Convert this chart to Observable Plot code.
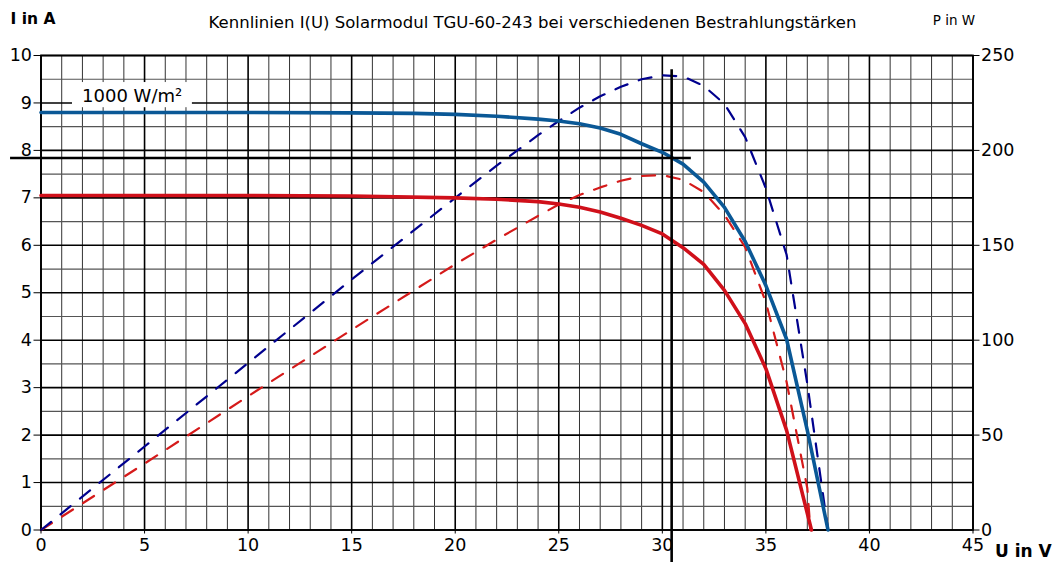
<!DOCTYPE html>
<html>
<head>
<meta charset="utf-8">
<script src="https://cdn.jsdelivr.net/npm/d3@7"></script>
<script src="https://cdn.jsdelivr.net/npm/@observablehq/plot@0.6"></script>
<style>
  html, body { margin: 0; padding: 0; background: #fff; }
  #chart svg { display: block; }
</style>
</head>
<body>
<div id="chart"></div>
<script>
// ---- Texts ----
const title = "Kennlinien I(U) Solarmodul TGU-60-243 bei verschiedenen Bestrahlungstärken";
const xLabel = "U in V";
const yLabel = "I in A";
const y2Label = "P in W";
const irrLabel = "1000 W/m²";

// ---- Ticks ----
const xTicks = [0, 5, 10, 15, 20, 25, 30, 35, 40, 45];
const yTicks = [0, 1, 2, 3, 4, 5, 6, 7, 8, 9, 10];
const pTicks = [0, 50, 100, 150, 200, 250];
const pPerAmp = 25; // right axis: 250 W at the top of the 10 A left axis

// ---- I(U) at 1000 W/m² (solid blue) ----
const u1000 = [0, 5, 10, 15, 18, 20, 22, 24, 25, 26, 27, 28, 29, 30, 31, 32, 33, 34, 35, 36, 37, 38];
const i1000 = [8.8, 8.8, 8.8, 8.79, 8.78, 8.76, 8.72, 8.66, 8.62, 8.56, 8.47, 8.34, 8.14, 7.96, 7.71, 7.33, 6.8, 6.08, 5.15, 4.02, 2.1, 0];

// ---- P(U) at 1000 W/m² (dashed navy) ----
const uP1000 = [0, 5, 10, 15, 20, 22, 24, 25, 26, 27, 28, 29, 30, 31, 32, 33, 34, 35, 36, 37, 38];
const p1000 = [0, 44, 88, 132, 175, 192, 208, 215.5, 222.5, 228.5, 233.5, 237.5, 239.5, 239, 234, 224.5, 207, 180, 145, 77, 0];

// ---- I(U) at 800 W/m² (solid red) ----
const u800 = [0, 5, 10, 15, 20, 22, 24, 25, 26, 27, 28, 29, 30, 31, 32, 33, 34, 35, 36, 37.2];
const i800 = [7.05, 7.05, 7.05, 7.04, 7.0, 6.97, 6.92, 6.87, 6.8, 6.7, 6.57, 6.42, 6.24, 5.95, 5.6, 5.05, 4.35, 3.4, 2.1, 0];

// ---- P(U) at 800 W/m² (dashed red) ----
const uP800 = [0, 5, 10, 15, 20, 22, 24, 25, 26, 27, 28, 29, 30, 31, 32, 33, 34, 35, 36, 37, 37.15];
const p800 = [0, 35, 70.5, 105.5, 140, 153, 165.5, 171.5, 176.5, 180.5, 184, 186.5, 187, 184.5, 178, 166, 149, 120, 78, 22, 0];

// ---- Annotations (MPP crosshair, label box) ----
const mppU = [30.45];
const mppI = [7.84];
const crossV = {y1: 9.7, y2: -0.7};
const crossH = {x1: -1.47, x2: 31.4};
const labelBox = [{x1: 1.52, x2: 7.31, y1: 8.9, y2: 9.43, xc: 4.4, yc: 9.03, text: irrLabel}];

// ---- Build tables ----
const toRows = (us, vs, scale = 1) => us.map((u, k) => ({u, v: vs[k] / scale}));
const rowsI1000 = toRows(u1000, i1000);
const rowsI800 = toRows(u800, i800);
const rowsP1000 = toRows(uP1000, p1000, pPerAmp);
const rowsP800 = toRows(uP800, p800, pPerAmp);

const vMinor = d3.range(0, 46).filter(d => d % 5 !== 0);
const vMajor = d3.range(0, 46, 5);
const hHalf = d3.range(0.5, 10, 1);
const hInt = d3.range(0, 11, 1);

const font = "DejaVu Sans, Verdana, sans-serif";

const chart = Plot.plot({
  width: 1063,
  height: 562,
  marginLeft: 40.5,
  marginRight: 90.5,
  marginTop: 55,
  marginBottom: 32.5,
  x: {domain: [0, 45]},
  y: {domain: [0, 10]},
  style: {fontFamily: font, fontSize: "17px", color: "#000", background: "#fff"},
  marks: [
    // grid
    Plot.ruleX(vMinor, {stroke: "#333", strokeWidth: 1}),
    Plot.ruleY(hHalf, {stroke: "#555", strokeWidth: 1.2}),
    Plot.ruleY(hInt, {stroke: "#000", strokeWidth: 1.6}),
    Plot.ruleX(vMajor, {stroke: "#000", strokeWidth: 1.6}),
    Plot.frame({stroke: "#000", strokeWidth: 1.8}),
    // label box
    Plot.rect(labelBox, {x1: "x1", x2: "x2", y1: "y1", y2: "y2", fill: "#fff"}),
    Plot.text(labelBox, {x: "xc", y: "yc", text: "text", fontSize: 18, fill: "#000", lineAnchor: "bottom"}),
    // power curves (dashed)
    Plot.line(rowsP800, {x: "u", y: "v", stroke: "#d51a1a", strokeWidth: 2.2, strokeDasharray: "13,12"}),
    Plot.line(rowsP1000, {x: "u", y: "v", stroke: "#00008e", strokeWidth: 2.2, strokeDasharray: "13,12"}),
    // current curves (solid)
    Plot.line(rowsI800, {x: "u", y: "v", stroke: "#d0101a", strokeWidth: 3.6}),
    Plot.line(rowsI1000, {x: "u", y: "v", stroke: "#0a5896", strokeWidth: 3.6}),
    // MPP crosshair
    Plot.ruleX(mppU, {y1: crossV.y1, y2: crossV.y2, stroke: "#000", strokeWidth: 2.6}),
    Plot.ruleY(mppI, {x1: crossH.x1, x2: crossH.x2, stroke: "#000", strokeWidth: 2.6}),
    // axes
    Plot.axisX(xTicks, {anchor: "bottom", tickSize: 4, tickPadding: 5, label: null, fontSize: 17.5}),
    Plot.axisY(yTicks, {anchor: "left", tickSize: 7, tickPadding: 2, label: null, fontSize: 17.5}),
    Plot.axisY(pTicks.map(p => p / pPerAmp), {anchor: "right", tickSize: 6, tickPadding: 2, label: null, fontSize: 17.5,
      tickFormat: d => String(Math.round(d * pPerAmp))}),
    // titles / axis labels
    Plot.text([title], {text: d => d, frameAnchor: "top", dx: 25.5, dy: -33, lineAnchor: "middle", fontSize: 16.5}),
    Plot.text([yLabel], {text: d => d, frameAnchor: "top-left", dx: -30.5, dy: -36, textAnchor: "start", lineAnchor: "middle", fontSize: 15.5, fontWeight: "bold"}),
    Plot.text([y2Label], {text: d => d, frameAnchor: "top-right", dx: -19, dy: -35, textAnchor: "middle", lineAnchor: "middle", fontSize: 13.5}),
    Plot.text([xLabel], {text: d => d, frameAnchor: "bottom-right", dx: 22, dy: 22, textAnchor: "start", lineAnchor: "middle", fontSize: 17, fontWeight: "bold"})
  ]
});
document.getElementById("chart").appendChild(chart);
</script>
</body>
</html>
